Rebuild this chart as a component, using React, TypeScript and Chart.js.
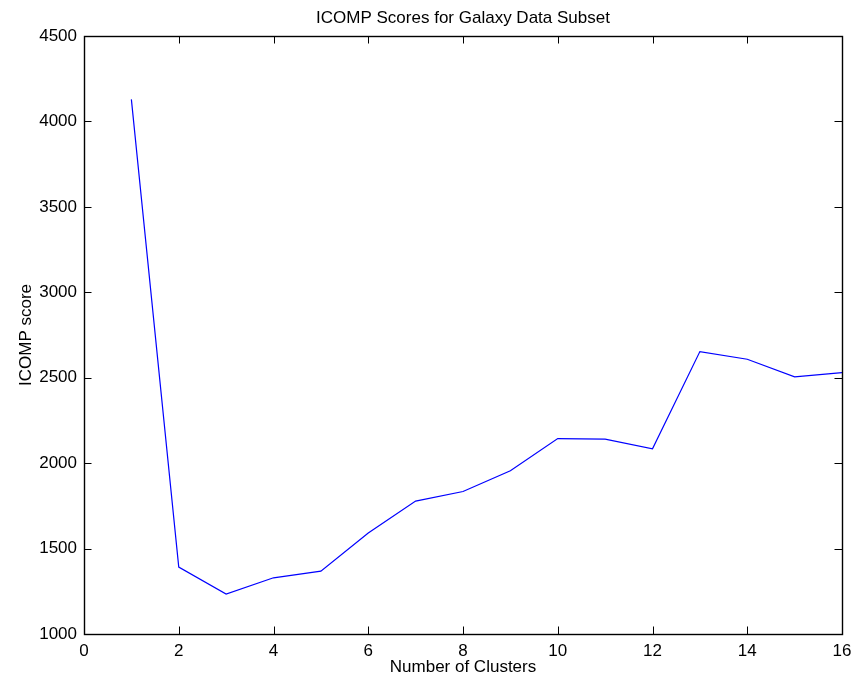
import React, { useEffect, useRef } from "react";
import { Chart, registerables } from "chart.js";

Chart.register(...registerables);

// ICOMP score for each number of clusters
const clusterCounts = [1, 2, 3, 4, 5, 6, 7, 8, 9, 10, 11, 12, 13, 14, 15, 16];
const icompScores = [4129, 1392, 1234, 1329, 1368, 1591, 1778, 1834, 1955, 2144, 2140, 2084, 2653, 2608, 2505, 2530];

const titleText = "ICOMP Scores for Galaxy Data Subset";
const xTitleText = "Number of Clusters";
const yTitleText = "ICOMP score";

const FONT = "'Liberation Sans', Arial, Helvetica, sans-serif";
const FONT_SIZE = 17;
const W = 867;
const H = 678;

// Boxed axes with inward ticks on all four sides, plus titles
const framePlugin = {
  id: "matlabFrame",
  afterDraw(chart: any) {
    const { ctx, chartArea: a } = chart;
    const xs = chart.scales.x;
    const ys = chart.scales.y;
    const tl = 7.5;
    ctx.save();
    ctx.strokeStyle = "#000";
    ctx.lineWidth = 1;
    ctx.beginPath();
    xs.ticks.forEach((t: any) => {
      const px = Math.round(xs.getPixelForValue(t.value)) + 0.5;
      ctx.moveTo(px, a.bottom);
      ctx.lineTo(px, a.bottom - tl);
      ctx.moveTo(px, a.top);
      ctx.lineTo(px, a.top + tl);
    });
    ys.ticks.forEach((t: any) => {
      const py = Math.round(ys.getPixelForValue(t.value)) + 0.5;
      ctx.moveTo(a.left, py);
      ctx.lineTo(a.left + tl, py);
      ctx.moveTo(a.right, py);
      ctx.lineTo(a.right - tl, py);
    });
    ctx.stroke();
    ctx.lineWidth = 1.4;
    ctx.strokeRect(Math.round(a.left) + 0.5, Math.round(a.top) + 0.5, Math.round(a.right - a.left), Math.round(a.bottom - a.top));

    ctx.fillStyle = "#000";
    ctx.font = `${FONT_SIZE}px ${FONT}`;
    ctx.textAlign = "center";
    ctx.textBaseline = "alphabetic";
    const cx = (a.left + a.right) / 2;
    ctx.fillText(titleText, cx, 23);
    ctx.fillText(xTitleText, cx, 672);
    ctx.translate(30.5, (a.top + a.bottom) / 2);
    ctx.rotate(-Math.PI / 2);
    ctx.fillText(yTitleText, 0, 0);
    ctx.restore();
  },
};

export default function App() {
  const canvasRef = useRef<HTMLCanvasElement | null>(null);

  useEffect(() => {
    const canvas = canvasRef.current;
    if (!canvas) return;
    const chart = new Chart(canvas, {
      type: "line",
      data: {
        datasets: [
          {
            data: clusterCounts.map((c, i) => ({ x: c, y: icompScores[i] })),
            borderColor: "#0000ff",
            borderWidth: 1.2,
            pointRadius: 0,
            tension: 0,
            fill: false,
          },
        ],
      },
      options: {
        responsive: false,
        animation: false,
        events: [],
        layout: { padding: { top: 36, right: 25, left: 0, bottom: 0 } },
        plugins: {
          legend: { display: false },
          title: { display: false },
          tooltip: { enabled: false },
        },
        scales: {
          x: {
            type: "linear",
            min: 0,
            max: 16,
            border: { display: false },
            grid: { display: false, drawTicks: false, tickLength: 0 },
            ticks: {
              stepSize: 2,
              padding: 7,
              color: "#000",
              maxRotation: 0,
              font: { family: FONT, size: FONT_SIZE },
              callback: (v: any) => String(v),
            },
            afterFit: (s: any) => {
              s.height = 44;
            },
          },
          y: {
            type: "linear",
            min: 1000,
            max: 4500,
            border: { display: false },
            grid: { display: false, drawTicks: false, tickLength: 0 },
            ticks: {
              stepSize: 500,
              padding: 7,
              color: "#000",
              font: { family: FONT, size: FONT_SIZE },
              callback: (v: any) => String(v),
            },
            afterFit: (s: any) => {
              s.width = 84;
            },
          },
        },
      },
      plugins: [framePlugin],
    });
    return () => chart.destroy();
  }, []);

  return (
    <div style={{ position: "absolute", left: 0, top: 0, width: W, height: H, background: "#fff" }}>
      <canvas ref={canvasRef} width={W} height={H} style={{ display: "block", width: W, height: H }} />
    </div>
  );
}
